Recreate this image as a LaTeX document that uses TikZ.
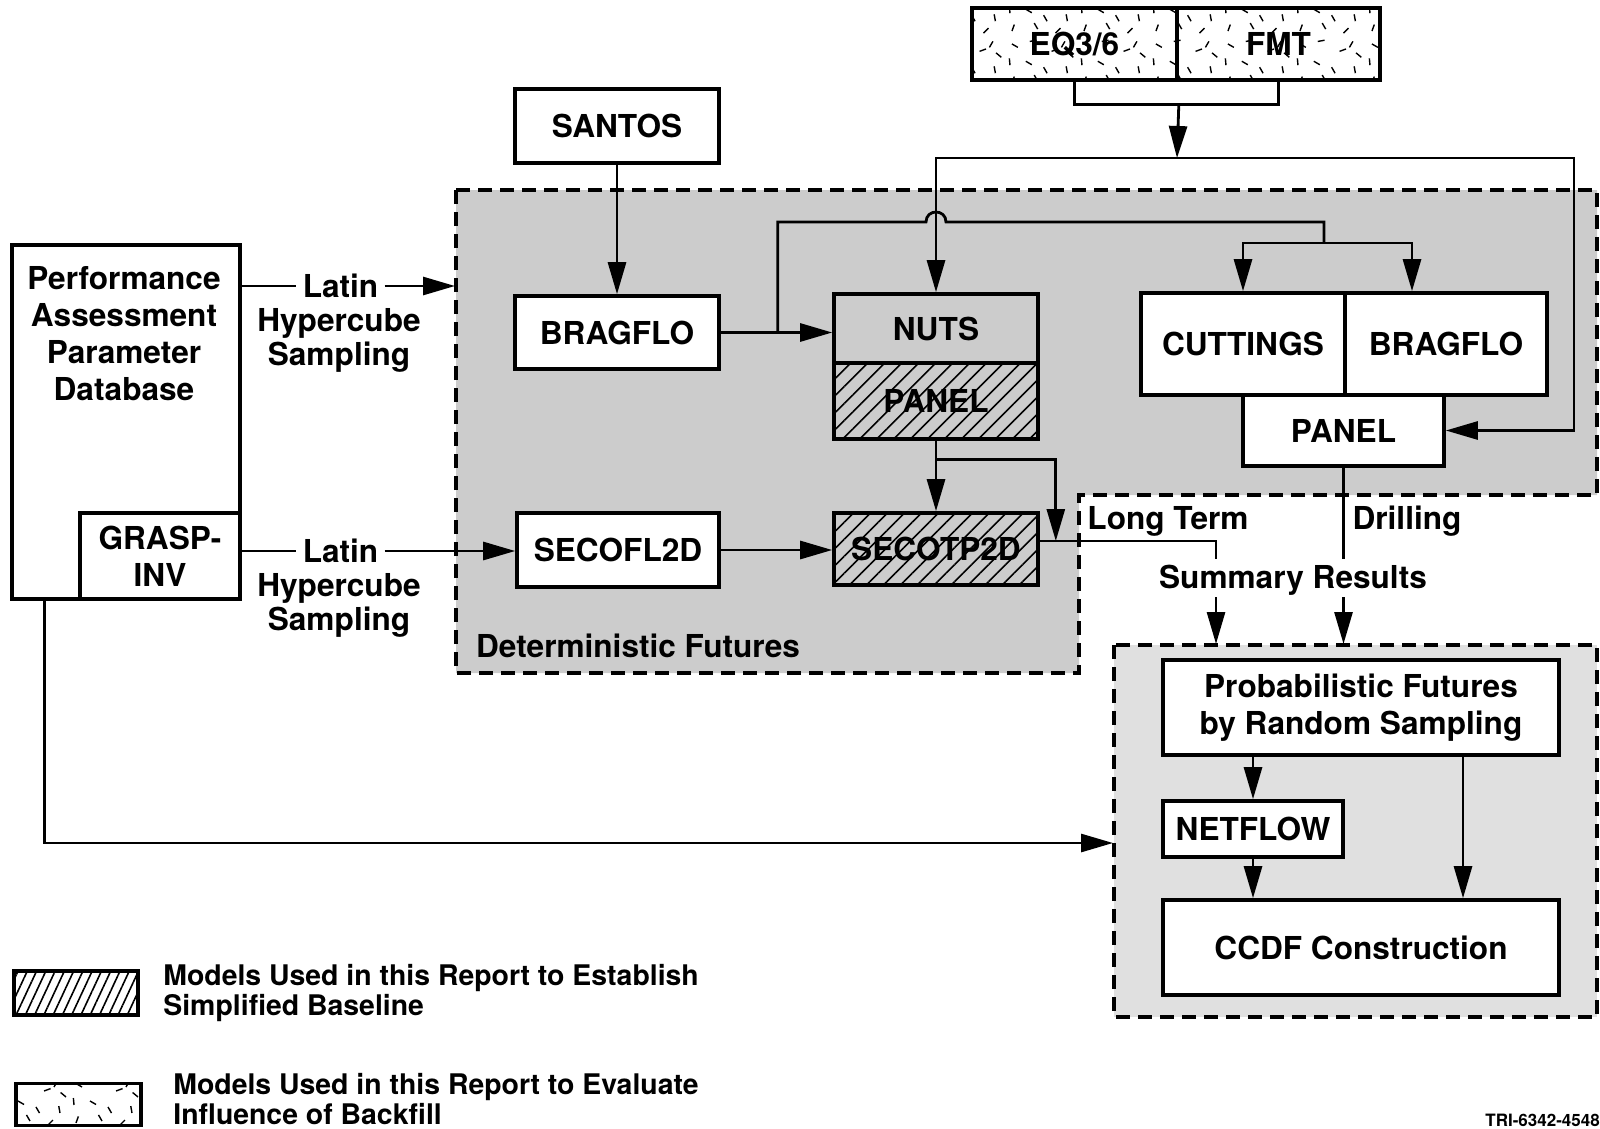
\documentclass[tikz,border=0pt]{standalone}
\usepackage{fontspec}
\setmainfont{TeX Gyre Heros}
\usetikzlibrary{arrows.meta,patterns,patterns.meta,calc}

\tikzdeclarepattern{
  name=speck,
  type=uncolored,
  bounding box={(0pt,0pt) and (36pt,26pt)},
  tile size={(36pt,26pt)},
  code={
    \draw[line width=0.7pt]
      (2pt,3pt) -- ++(70:3.5pt)
      (9pt,14pt) -- ++(-30:3.5pt)
      (15pt,4pt) -- ++(120:3.5pt)
      (22pt,19pt) -- ++(20:3.5pt)
      (30pt,8pt) -- ++(100:3.5pt)
      (5pt,21pt) -- ++(150:3.5pt)
      (27pt,21pt) -- ++(60:3.5pt)
      (18pt,11pt) -- ++(-60:3.5pt)
      (33pt,16pt) -- ++(140:3.5pt)
      (11pt,24pt) -- ++(10:3.5pt)
      (24pt,2pt) -- ++(45:3.5pt)
      (1pt,12pt) -- ++(95:3.5pt);
  }
}

\newcommand\mainf{\bfseries\fontsize{15.8}{17}\selectfont}
\newcommand\paf{\bfseries\fontsize{15.8}{18.5}\selectfont}
\newcommand\legf{\bfseries\fontsize{14.2}{13.5}\selectfont}

\tikzset{
  bx/.style={draw, line width=1.8pt, inner sep=0pt, font=\mainf, align=center},
  box/.style={bx, fill=white},
  hatchbox/.style={bx, pattern={Lines[angle=45,distance=6pt,line width=0.8pt]}},
  speckbox/.style={bx, preaction={fill=white}, pattern=speck},
  ln/.style={line width=1.4pt},
  arr/.style={line width=1.4pt, -{Triangle[length=16pt,width=9pt]}},
  dashbox/.style={line width=1.6pt, dash pattern=on 7pt off 4pt},
  lbl/.style={font=\mainf, inner sep=0pt, align=center},
}

\begin{document}
\begin{tikzpicture}[x=0.5pt,y=-0.5pt]
\useasboundingbox (0,0) rectangle (1600,1129);

% shaded regions
\draw[dashbox, fill=gray!40] (456,190) -- (1597,190) -- (1597,495) -- (1079,495) -- (1079,673) -- (456,673) -- cycle;
\draw[dashbox, fill=gray!24] (1114,645) rectangle (1597,1017);

% top speckled models
\node[speckbox, minimum width=102.5pt, minimum height=36pt] (eq) at (1074.5,44) {EQ3/6};
\node[speckbox, minimum width=101.5pt, minimum height=36pt] (fmt) at (1278.5,44) {FMT};

% left column
\node[box, minimum width=102pt, minimum height=37pt] (santos) at (617,126) {SANTOS};
\node[box, minimum width=102pt, minimum height=36.5pt] (bragflo1) at (617,332.5) {BRAGFLO};
\node[box, minimum width=101pt, minimum height=37pt] (secofl) at (618,550) {SECOFL2D};

% middle column
\node[bx, minimum width=102pt, minimum height=34.5pt] (nuts) at (936,328.5) {NUTS};
\node[hatchbox, minimum width=102pt, minimum height=38pt] (panel1) at (936,401) {PANEL};
\node[hatchbox, minimum width=102pt, minimum height=36pt] (secotp) at (936,549) {SECOTP2D};

% right group
\node[box, minimum width=102pt, minimum height=51pt] (cuttings) at (1243,344) {CUTTINGS};
\node[box, minimum width=101pt, minimum height=51pt] (bragflo2) at (1446,344) {BRAGFLO};
\node[box, minimum width=100.5pt, minimum height=35.5pt] (panel2) at (1343.5,430.5) {PANEL};

% database
\node[box, minimum width=114pt, minimum height=177pt] (pa) at (126,422) {};
\node[lbl, font=\paf] (pat) at (124,334) {Performance\\Assessment\\Parameter\\Database};
\node[box, font=\paf, minimum width=80pt, minimum height=43pt] (grasp) at (160,556) {GRASP-\\INV};

% probabilistic
\node[box, font=\paf, minimum width=198pt, minimum height=47.5pt] (prob) at (1361,707.5) {Probabilistic Futures\\by Random Sampling};
\node[box, minimum width=90pt, minimum height=28pt] (netflow) at (1253,829) {NETFLOW};
\node[box, minimum width=198pt, minimum height=47.5pt] (ccdf) at (1361,947.5) {CCDF Construction};

% labels
\node[lbl, inner xsep=3pt] (lat1) at (340.5,286) {Latin};
\node[lbl] (hs1) at (339,340) {Hypercube\\Sampling};
\node[lbl, inner xsep=3pt] (lat2) at (340.5,551) {Latin};
\node[lbl] (hs2) at (339,605) {Hypercube\\Sampling};
\node[lbl] (det) at (638,646) {Deterministic Futures};
\node[lbl] (lt) at (1168,521) {Long Term};
\node[lbl] (dr) at (1407,521) {Drilling};
\node[lbl] (sr) at (1293,580) {Summary Results};

% coordinates
\coordinate (topc) at (1177,158);
\coordinate (rt) at (1574,158);
\coordinate (detL) at (455,286);
\coordinate (sp) at (1324,243);
\coordinate (ltd) at (1216,559);
\coordinate (lts) at (1216,597);
\coordinate (ltb) at (1216,644);
\coordinate (probL) at (1113,843);

% connectors at top
\draw[ln] (eq.south) -- ++(0,23) -| (fmt.south);
\draw[arr] ($(eq.south east)+(0,23)$) -- (topc);
\draw[arr] (topc) -| (nuts.north);
\draw[arr] (topc) -- (rt) |- (panel2.east);

\draw[arr] (santos.south) -- (bragflo1.north);
\draw[arr] (bragflo1.east) -- (bragflo1.east -| nuts.west);
\draw[ln] ($(bragflo1.east)+(57,0)$) |- (926,222) .. controls (926,208.7) and (946,208.7) .. (946,222) -| (sp);
\draw[arr] (sp) -| (cuttings.north);
\draw[arr] (sp) -| ($(bragflo2.north)+(-34,0)$);

\draw[arr] (panel1.south) -- (secotp.north);
\draw[arr] ($(panel1.south)+(0,20)$) -| ($(secotp.east)+(16,-8)$);
\draw[arr] (secofl.east) -- (secofl.east -| secotp.west);
\draw[ln] ($(secotp.east)+(0,-8)$) -| (ltd);
\draw[arr] (lts) -- (ltb);
\draw[ln] (panel2.south) -- (panel2.south |- ltd);
\draw[arr] (panel2.south |- lts) -- (panel2.south |- ltb);

% database connectors
\draw[ln] (pa.east |- lat1.west) -- (lat1.west);
\draw[arr] (lat1.east) -- (detL);
\draw[ln] (grasp.east |- lat2.west) -- (lat2.west);
\draw[arr] (lat2.east) -- (lat2.east -| secofl.west);
\draw[arr] ($(pa.south west)+(34,0)$) |- (probL);

% probabilistic connectors
\draw[arr] (netflow.north |- prob.south) -- (netflow.north);
\draw[arr] (netflow.south) -- (netflow.south |- ccdf.north);
\draw[arr] ($(prob.south)+(102,0)$) -- ($(ccdf.north)+(102,0)$);

% legend
\node[bx, pattern={Lines[angle=65,distance=4.2pt,line width=0.8pt]}, minimum width=62pt, minimum height=22pt] (lg1) at (76,993) {};
\node[lbl, font=\legf, align=left, anchor=west] (lg1t) at (163,993) {Models Used in this Report to Establish\\Simplified Baseline};
\node[speckbox, minimum width=62.5pt, minimum height=21pt] (lg2) at (78.5,1104.5) {};
\node[lbl, font=\legf, align=left, anchor=west] (lg2t) at (173,1099) {Models Used in this Report to Evaluate\\Influence of Backfill};

\node[lbl, font=\bfseries\fontsize{8.5}{10}\selectfont, anchor=west] (tri) at (1485,1120) {TRI-6342-4548};
\end{tikzpicture}
\end{document}
